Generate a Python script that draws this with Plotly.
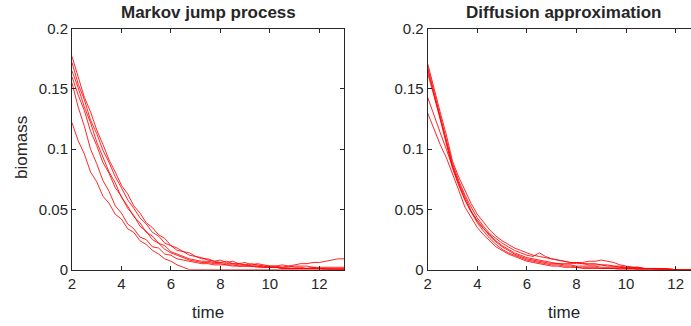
import plotly.graph_objects as go

TIME = [2.00, 2.25, 2.50, 2.75, 3.00, 3.25, 3.50, 3.75, 4.00, 4.25, 4.50, 4.75,
        5.00, 5.25, 5.50, 5.75, 6.00, 6.25, 6.50, 6.75, 7.00, 7.25, 7.50, 7.75,
        8.00, 8.25, 8.50, 8.75, 9.00, 9.25, 9.50, 9.75, 10.00, 10.25, 10.50, 10.75,
        11.00, 11.25, 11.50, 11.75, 12.00, 12.25, 12.50, 12.75, 13.00]

# Markov jump process trajectories
MJP_1 = [0.177, 0.161, 0.143, 0.131, 0.116, 0.104, 0.091, 0.081, 0.070, 0.063, 0.053, 0.047,
         0.039, 0.035, 0.029, 0.026, 0.020, 0.018, 0.015, 0.014, 0.011, 0.010, 0.008, 0.007,
         0.006, 0.007, 0.005, 0.005, 0.004, 0.005, 0.004, 0.003, 0.003, 0.003, 0.004, 0.003,
         0.004, 0.005, 0.005, 0.006, 0.006, 0.007, 0.008, 0.009, 0.009]
MJP_2 = [0.172, 0.154, 0.141, 0.124, 0.113, 0.099, 0.089, 0.077, 0.068, 0.058, 0.051, 0.043,
         0.038, 0.031, 0.028, 0.022, 0.020, 0.016, 0.015, 0.012, 0.011, 0.009, 0.009, 0.007,
         0.008, 0.006, 0.007, 0.005, 0.006, 0.004, 0.005, 0.004, 0.003, 0.003, 0.002, 0.003,
         0.002, 0.002, 0.001, 0.002, 0.001, 0.001, 0.001, 0.001, 0.001]
MJP_3 = [0.165, 0.151, 0.135, 0.122, 0.106, 0.094, 0.081, 0.072, 0.060, 0.053, 0.044, 0.039,
         0.031, 0.028, 0.022, 0.020, 0.015, 0.013, 0.011, 0.009, 0.008, 0.007, 0.007, 0.006,
         0.006, 0.005, 0.005, 0.004, 0.004, 0.003, 0.003, 0.003, 0.002, 0.002, 0.002, 0.002,
         0.003, 0.003, 0.003, 0.002, 0.002, 0.002, 0.002, 0.002, 0.002]
MJP_4 = [0.160, 0.145, 0.132, 0.115, 0.103, 0.089, 0.080, 0.068, 0.061, 0.051, 0.045, 0.036,
         0.032, 0.025, 0.022, 0.017, 0.014, 0.012, 0.010, 0.008, 0.007, 0.006, 0.006, 0.005,
         0.005, 0.004, 0.004, 0.003, 0.003, 0.003, 0.003, 0.002, 0.002, 0.002, 0.001, 0.001,
         0.001, 0.001, 0.001, 0.001, 0.001, 0.001, 0.000, 0.000, 0.000]
MJP_5 = [0.155, 0.135, 0.119, 0.100, 0.088, 0.074, 0.065, 0.053, 0.047, 0.038, 0.034, 0.027,
         0.025, 0.019, 0.018, 0.013, 0.012, 0.009, 0.008, 0.007, 0.006, 0.005, 0.005, 0.004,
         0.004, 0.004, 0.003, 0.003, 0.003, 0.003, 0.002, 0.002, 0.002, 0.002, 0.001, 0.001,
         0.001, 0.001, 0.001, 0.001, 0.001, 0.000, 0.000, 0.000, 0.000]
MJP_6 = [0.122, 0.107, 0.096, 0.081, 0.073, 0.061, 0.055, 0.046, 0.042, 0.034, 0.031, 0.024,
         0.021, 0.016, 0.013, 0.009, 0.007, 0.004, 0.002, 0.000, 0.000, 0.000, 0.000, 0.000,
         0.000, 0.000, 0.000, 0.000, 0.000, 0.000, 0.000, 0.000, 0.000, 0.000, 0.000, 0.000,
         0.000, 0.000, 0.000, 0.000, 0.000, 0.000, 0.000, 0.000, 0.000]

# Diffusion approximation trajectories
DIF_1 = [0.171, 0.150, 0.131, 0.112, 0.090, 0.077, 0.066, 0.055, 0.046, 0.039, 0.033, 0.028,
         0.024, 0.021, 0.018, 0.016, 0.014, 0.012, 0.011, 0.010, 0.009, 0.008, 0.007, 0.006,
         0.006, 0.005, 0.005, 0.005, 0.004, 0.004, 0.003, 0.003, 0.002, 0.002, 0.002, 0.001,
         0.001, 0.001, 0.001, 0.001, 0.000, 0.000, 0.000, 0.000, 0.000]
DIF_2 = [0.168, 0.148, 0.128, 0.108, 0.088, 0.074, 0.062, 0.052, 0.043, 0.036, 0.030, 0.026,
         0.022, 0.019, 0.016, 0.014, 0.012, 0.011, 0.014, 0.011, 0.009, 0.008, 0.007, 0.006,
         0.005, 0.005, 0.004, 0.004, 0.004, 0.003, 0.003, 0.002, 0.002, 0.002, 0.001, 0.001,
         0.001, 0.001, 0.000, 0.000, 0.000, 0.000, 0.000, 0.000, 0.000]
DIF_3 = [0.163, 0.145, 0.126, 0.106, 0.086, 0.072, 0.060, 0.049, 0.040, 0.034, 0.029, 0.024,
         0.020, 0.017, 0.014, 0.012, 0.010, 0.009, 0.008, 0.007, 0.006, 0.005, 0.005, 0.005,
         0.006, 0.006, 0.007, 0.007, 0.008, 0.007, 0.006, 0.004, 0.003, 0.002, 0.002, 0.001,
         0.001, 0.001, 0.001, 0.000, 0.000, 0.000, 0.000, 0.000, 0.000]
DIF_4 = [0.143, 0.128, 0.114, 0.100, 0.085, 0.071, 0.058, 0.048, 0.041, 0.034, 0.028, 0.023,
         0.019, 0.016, 0.013, 0.011, 0.009, 0.008, 0.007, 0.006, 0.005, 0.005, 0.004, 0.004,
         0.003, 0.003, 0.003, 0.003, 0.002, 0.002, 0.002, 0.002, 0.001, 0.001, 0.001, 0.001,
         0.001, 0.000, 0.000, 0.000, 0.000, 0.000, 0.000, 0.000, 0.000]
DIF_5 = [0.130, 0.117, 0.104, 0.093, 0.080, 0.066, 0.052, 0.043, 0.035, 0.029, 0.024, 0.019,
         0.016, 0.013, 0.011, 0.009, 0.007, 0.006, 0.005, 0.004, 0.003, 0.003, 0.002, 0.002,
         0.002, 0.001, 0.001, 0.001, 0.001, 0.001, 0.001, 0.000, 0.000, 0.000, 0.000, 0.000,
         0.000, 0.000, 0.000, 0.000, 0.000, 0.000, 0.000, 0.000, 0.000]
DIF_6 = [0.166, 0.146, 0.125, 0.104, 0.084, 0.070, 0.058, 0.048, 0.039, 0.032, 0.026, 0.021,
         0.017, 0.014, 0.012, 0.010, 0.008, 0.007, 0.006, 0.005, 0.004, 0.004, 0.003, 0.003,
         0.002, 0.002, 0.002, 0.002, 0.001, 0.001, 0.001, 0.001, 0.001, 0.001, 0.000, 0.000,
         0.000, 0.000, 0.000, 0.000, 0.000, 0.000, 0.000, 0.000, 0.000]

MJP = [MJP_1, MJP_2, MJP_3, MJP_4, MJP_5, MJP_6]
DIF = [DIF_1, DIF_2, DIF_3, DIF_4, DIF_5, DIF_6]

X_TICKS = [2, 4, 6, 8, 10, 12]
Y_TICKS = [0, 0.05, 0.1, 0.15, 0.2]
Y_LABELS = ["0", "0.05", "0.1", "0.15", "0.2"]

FONT = "Liberation Sans, Arial, Helvetica, sans-serif"
AX = "#262626"
W, H = 691, 326

fig = go.Figure()
for ys in MJP:
    fig.add_trace(go.Scatter(x=TIME, y=ys, mode="lines", xaxis="x", yaxis="y",
                             line=dict(color="rgba(255,0,0,0.85)", width=1), showlegend=False))
for ys in DIF:
    fig.add_trace(go.Scatter(x=TIME, y=ys, mode="lines", xaxis="x2", yaxis="y2",
                             line=dict(color="rgba(255,0,0,0.85)", width=1), showlegend=False))

left0, left1 = 72 / W, 344 / W
right0 = 427.7 / W
ybot, ytop = 1 - 269.7 / H, 1 - 28.7 / H

common = dict(showgrid=False, zeroline=False, showline=True, linecolor=AX, linewidth=1,
              ticks="inside", ticklen=4, tickcolor=AX, tickwidth=1,
              tickfont=dict(family=FONT, size=15, color=AX), automargin=False)

fig.update_layout(
    width=W, height=H,
    margin=dict(l=0, r=0, t=0, b=0),
    paper_bgcolor="white", plot_bgcolor="white",
    xaxis=dict(domain=[left0, left1], range=[2, 13], tickvals=X_TICKS, anchor="y",
               mirror="ticks", **common),
    yaxis=dict(domain=[ybot, ytop], range=[0, 0.2], tickvals=Y_TICKS, ticktext=Y_LABELS,
               anchor="x", mirror="ticks", **common),
    xaxis2=dict(domain=[right0, 1], range=[2, 2 + (W - 427.7) / 24.8], tickvals=X_TICKS,
                anchor="y2", mirror="ticks", **common),
    yaxis2=dict(domain=[ybot, ytop], range=[0, 0.2], tickvals=Y_TICKS, ticktext=Y_LABELS,
                anchor="x2", mirror=False, **common),
)

ann = [
    dict(text="<b>Markov jump process</b>", x=208 / W, y=1 - 12.5 / H, size=17),
    dict(text="<b>Diffusion approximation</b>", x=564 / W, y=1 - 12.5 / H, size=17),
    dict(text="time", x=208 / W, y=1 - 312 / H, size=17),
    dict(text="time", x=564 / W, y=1 - 312 / H, size=17),
]
for a in ann:
    fig.add_annotation(text=a["text"], x=a["x"], y=a["y"], xref="paper", yref="paper",
                       xanchor="center", yanchor="middle", showarrow=False,
                       font=dict(family=FONT, size=a["size"], color=AX))
fig.add_annotation(text="biomass", x=21 / W, y=1 - 148 / H, xref="paper", yref="paper",
                   xanchor="center", yanchor="middle", showarrow=False, textangle=-90,
                   font=dict(family=FONT, size=17, color=AX))

fig.write_html("out.html", config={"displayModeBar": False},
               post_script="document.body.style.margin='0';document.body.style.overflow='hidden';")
